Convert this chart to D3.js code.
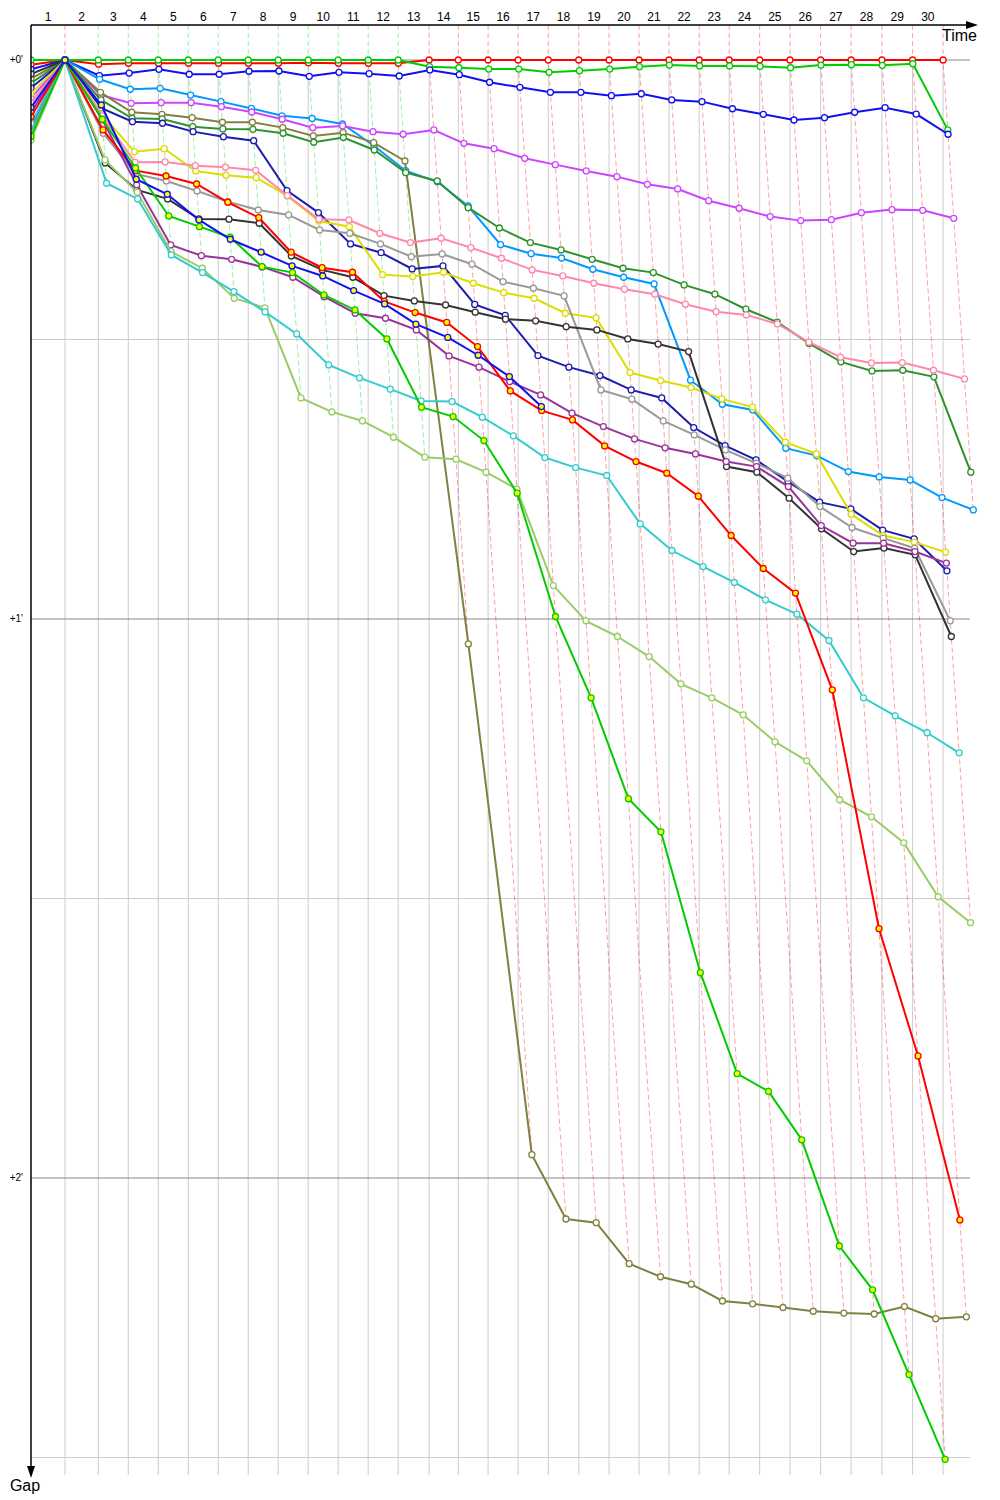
<!DOCTYPE html>
<html>
<head>
<meta charset="utf-8">
<script src="https://cdn.jsdelivr.net/npm/d3@7"></script>
<style>
  body { margin: 0; background: #fff; }
  svg text { font-family: "Liberation Sans", Arial, sans-serif; }
</style>
</head>
<body>
<svg id="chart" width="1000" height="1500"></svg>
<script>
// leader lap times (s), lap 1..30
const leaderLapTimes = [54.3, 53.2, 47.9, 47.9, 47.9, 47.9, 47.9, 47.9, 47.9, 47.9, 47.9, 47.9,
  49.5, 46.6, 47.6, 47.9, 48.2, 48.7, 48.4, 47.9, 47.9, 48.2, 47.9, 48.7, 48.4, 49.0, 48.7, 49.2, 49.0, 48.7];
const lapLabels = d3.range(1, 31).map(String);
const gapTicks = [0, 60, 120];
const gapTickLabels = ["+0'", "+1'", "+2'"];
const gapMinorTicks = [30, 90, 150];

// gap to leader (s), index = lap (0 = grid)
const redGaps = [0.5, 0, 0.45, 0.35, 0.35, 0.35, 0.35, 0.35, 0.35, 0.3, 0.35, 0.35, 0.35,
  0, 0, 0, 0, 0, 0, 0, 0, 0, 0, 0, 0, 0, 0, 0, 0, 0, 0];
const greenGaps = [0, 0, 0, 0, 0, 0, 0, 0, 0, 0, 0, 0, 0,
  0.72, 0.83, 0.97, 0.97, 1.32, 1.15, 0.97, 0.72, 0.54, 0.64, 0.64, 0.68, 0.83, 0.54, 0.5, 0.57, 0.4, 7.5];
const blueGaps = [1.0, 0, 1.68, 1.4, 1.0, 1.53, 1.53, 1.21, 1.18, 1.75, 1.32, 1.47, 1.72,
  1.07, 1.58, 2.39, 2.93, 3.47, 3.47, 3.83, 3.62, 4.29, 4.47, 5.23, 5.83, 6.44, 6.19, 5.61, 5.12, 5.8, 7.97];
const lightBlueGaps = [7.3, 0, 2.07, 3.14, 3.04, 3.76, 4.47, 5.2, 5.99, 6.28, 6.87, 9.2, 11.88,
  13.07, 15.67, 19.82, 20.79, 21.25, 22.46, 23.32, 24.04, 34.37, 36.95, 37.56, 41.67, 42.46, 44.18, 44.75, 45.07, 46.97, 48.29];
const violetGaps = [4.1, 0, 3.76, 4.65, 4.58, 4.58, 5.01, 5.58, 6.36, 7.26, 7.08, 7.69, 7.97,
  7.51, 8.94, 9.52, 10.55, 11.23, 11.91, 12.52, 13.34, 13.84, 15.1, 15.91, 16.81, 17.24, 17.14, 16.39, 16.06, 16.13, 16.99];
const oliveGaps = [2.0, 0, 3.47, 5.61, 5.83, 6.19, 6.68, 6.68, 7.26, 8.15, 7.8, 8.87, 10.84,
  62.67, 117.5, 124.4, 124.8, 129.2, 130.6, 131.4, 133.2, 133.5, 133.9, 134.3, 134.5, 134.6, 133.8, 135.1, 134.9];
const darkGreenGaps = [2.5, 0, 4.29, 6.26, 6.33, 7.16, 7.4, 7.44, 7.86, 8.83, 8.32, 9.66, 12.09,
  12.98, 15.85, 18.03, 19.6, 20.39, 21.39, 22.35, 22.82, 24.14, 25.14, 26.75, 28.13, 30.42, 32.4, 33.37, 33.3, 34.01, 44.24];
const navyGaps = [3.0, 0, 5.18, 6.62, 6.79, 7.69, 8.23, 8.66, 14.02, 16.38, 19.74, 20.68, 22.43,
  22.1, 26.23, 27.41, 31.73, 32.97, 33.87, 35.41, 36.27, 39.45, 41.39, 42.92, 45.25, 47.46, 48.18, 50.46, 51.4, 54.83];
const yellowGaps = [3.6, 0, 5.8, 9.84, 9.52, 11.91, 12.37, 12.63, 14.59, 17.28, 17.89, 23.04, 23.25,
  22.78, 23.96, 24.97, 25.57, 27.18, 27.68, 33.55, 34.41, 35.16, 36.37, 37.26, 41.02, 42.28, 48.75, 51.04, 51.75, 52.82];
const pinkGaps = [4.6, 0, 6.0, 10.98, 10.94, 11.34, 11.51, 11.84, 14.56, 17.09, 17.17, 18.6, 19.6,
  19.13, 20.14, 21.28, 22.53, 23.18, 23.96, 24.6, 25.14, 26.21, 27.01, 27.36, 28.33, 30.29, 31.9, 32.51, 32.48, 33.3, 34.23];
const redYellowGaps = [6.1, 0, 7.51, 11.88, 12.45, 13.31, 15.27, 16.92, 20.63, 22.29, 22.78, 25.91, 27.11,
  28.17, 30.76, 35.52, 37.63, 38.63, 41.42, 43.1, 44.35, 46.82, 51.04, 54.58, 57.22, 67.6, 93.24, 106.9, 124.5];
const grayGaps = [7.7, 0, 7.87, 12.23, 12.98, 14.06, 15.2, 16.1, 16.63, 18.24, 18.6, 19.74, 21.11,
  20.82, 21.92, 23.79, 24.5, 25.32, 35.41, 36.41, 38.74, 40.24, 41.85, 43.28, 44.88, 47.93, 50.18, 51.32, 52.4, 60.2];
const blackGaps = [1.5, 0, 11.05, 13.95, 14.91, 17.06, 17.09, 17.52, 21.03, 22.53, 23.32, 25.29, 25.86,
  26.29, 27.07, 27.82, 28.0, 28.62, 28.97, 29.94, 30.49, 31.3, 43.64, 44.24, 47.03, 50.32, 52.76, 52.39, 53.11, 61.88];
const greenYellowGaps = [8.2, 0, 6.36, 11.59, 16.74, 17.89, 19.02, 22.18, 22.82, 25.22, 26.83, 29.94, 37.26,
  38.27, 40.85, 46.49, 59.73, 68.46, 79.29, 82.84, 97.96, 108.8, 110.7, 115.9, 127.3, 132.0, 141.1, 150.2];
const blueYellowGaps = [5.1, 0, 4.83, 12.8, 14.41, 17.17, 19.24, 20.63, 22.1, 23.18, 24.75, 26.18, 28.35,
  29.78, 31.69, 33.98, 37.2];
const purpleGaps = [5.6, 0, 6.4, 13.4, 19.85, 21.0, 21.39, 22.21, 23.32, 25.4, 27.18, 27.72, 28.97,
  31.76, 32.97, 34.52, 35.95, 37.91, 39.35, 40.67, 41.63, 42.28, 43.1, 43.64, 45.79, 49.97, 51.86, 51.86, 52.76, 54.0];
const lightGreenGaps = [8.6, 0, 10.73, 14.2, 20.57, 22.35, 25.57, 26.6, 36.27, 37.77, 38.74, 40.49, 42.63,
  42.85, 44.24, 46.07, 56.41, 60.2, 61.88, 64.03, 66.96, 68.46, 70.28, 73.18, 75.22, 79.4, 81.23, 84.02, 89.81, 92.6];
const cyanGaps = [6.8, 0, 13.23, 14.91, 20.92, 22.82, 24.86, 27.04, 29.4, 32.73, 34.12, 35.33, 36.59,
  36.66, 38.34, 40.34, 42.67, 43.75, 44.6, 49.79, 52.65, 54.37, 56.08, 57.94, 59.48, 62.31, 68.46, 70.39, 72.21, 74.36];

const drivers = [
  { color: "#ff0000", fill: "#fff", gaps: redGaps },
  { color: "#00cc00", fill: "#fff", gaps: greenGaps },
  { color: "#1010f0", fill: "#fff", gaps: blueGaps },
  { color: "#0099ff", fill: "#fff", gaps: lightBlueGaps },
  { color: "#cc44ff", fill: "#fff", gaps: violetGaps },
  { color: "#808040", fill: "#fff", gaps: oliveGaps },
  { color: "#2e922e", fill: "#fff", gaps: darkGreenGaps },
  { color: "#1c1cb0", fill: "#fff", gaps: navyGaps },
  { color: "#dddd00", fill: "#fff", gaps: yellowGaps },
  { color: "#ff88aa", fill: "#fff", gaps: pinkGaps },
  { color: "#999999", fill: "#fff", gaps: grayGaps },
  { color: "#333333", fill: "#fff", gaps: blackGaps },
  { color: "#993399", fill: "#fff", gaps: purpleGaps },
  { color: "#99cc66", fill: "#fff", gaps: lightGreenGaps },
  { color: "#33cccc", fill: "#fff", gaps: cyanGaps },
  { color: "#ff0000", fill: "#ffff00", gaps: redYellowGaps },
  { color: "#00cc00", fill: "#ffff00", gaps: greenYellowGaps },
  { color: "#1010f0", fill: "#ffff00", gaps: blueYellowGaps }
];

const cum = [0];
leaderLapTimes.forEach(t => cum.push(cum[cum.length - 1] + t));

const svg = d3.select("#chart");
const x = d3.scaleLinear().domain([0, 1500]).range([31, 970]);
const y = d3.scaleLinear().domain([0, 150]).range([60, 1457.5]);
const axisTop = 25, axisBottom = 1475;

drivers.forEach(d => {
  d.points = d.gaps.map((g, i) => ({ lap: i, gap: g, t: i === 0 ? 0 : cum[i] + g }));
});

// grid
const grid = svg.append("g");
grid.selectAll("line.v")
  .data(cum.slice(1))
  .join("line")
  .attr("x1", d => x(d)).attr("x2", d => x(d))
  .attr("y1", y(0)).attr("y2", axisBottom)
  .attr("stroke", "#cccccc");
grid.selectAll("line.minor")
  .data(gapMinorTicks)
  .join("line")
  .attr("x1", 31).attr("x2", 970)
  .attr("y1", d => y(d)).attr("y2", d => y(d))
  .attr("stroke", "#cccccc");
grid.selectAll("line.major")
  .data(gapTicks)
  .join("line")
  .attr("x1", 31).attr("x2", 970)
  .attr("y1", d => y(d)).attr("y2", d => y(d))
  .attr("stroke", "#888888");

svg.append("defs").append("clipPath").attr("id", "plot")
  .append("rect").attr("x", 31).attr("y", 0).attr("width", 969).attr("height", 1500);

const plot = svg.append("g").attr("clip-path", "url(#plot)");

// lap lines, coloured by the leader of the lap
const lapLines = d3.range(1, 31).map(n => {
  const pts = drivers.filter(d => d.gaps[n] !== undefined)
    .map(d => ({ gap: d.gaps[n], t: cum[n] + d.gaps[n], color: d.color }));
  pts.sort((a, b) => a.gap - b.gap);
  return { lap: n, color: pts[0].color, pts: [{ gap: null, t: cum[n] }].concat(pts) };
});

plot.append("g")
  .selectAll("path")
  .data(lapLines)
  .join("path")
  .attr("d", d => d3.line().x(p => x(p.t)).y(p => p.gap === null ? axisTop : y(p.gap))(d.pts))
  .attr("fill", "none")
  .attr("stroke", d => d.color)
  .attr("stroke-opacity", 0.38)
  .attr("stroke-dasharray", "5,3");

// drivers
const line = d3.line().x(p => x(p.t)).y(p => y(p.gap));
const dg = plot.selectAll("g.driver")
  .data(drivers)
  .join("g");

dg.append("path")
  .attr("d", d => line(d.points))
  .attr("fill", "none")
  .attr("stroke", d => d.color)
  .attr("stroke-width", 2);

dg.selectAll("circle")
  .data(d => d.points.map(p => Object.assign({ color: d.color, fill: d.fill }, p)))
  .join("circle")
  .attr("cx", p => x(p.t))
  .attr("cy", p => y(p.gap))
  .attr("r", 3)
  .attr("fill", p => p.fill)
  .attr("stroke", p => p.color)
  .attr("stroke-width", 1.3);

// axes
svg.append("line").attr("x1", 31).attr("x2", 970).attr("y1", axisTop).attr("y2", axisTop)
  .attr("stroke", "#000").attr("stroke-width", 1.5);
svg.append("path").attr("d", `M978,${axisTop} L966,${axisTop - 4} L966,${axisTop + 4} Z`).attr("fill", "#000");
svg.append("line").attr("x1", 31).attr("x2", 31).attr("y1", axisTop).attr("y2", 1468)
  .attr("stroke", "#000").attr("stroke-width", 1.5);
svg.append("path").attr("d", "M31,1478 L27,1466 L35,1466 Z").attr("fill", "#000");

svg.append("text").attr("x", 977).attr("y", 41).attr("text-anchor", "end")
  .attr("font-size", 16).text("Time");
svg.append("text").attr("x", 25).attr("y", 1491).attr("text-anchor", "middle")
  .attr("font-size", 16).text("Gap");

svg.selectAll("text.lap")
  .data(lapLabels)
  .join("text")
  .attr("x", (d, i) => (x(cum[i]) + x(cum[i + 1])) / 2)
  .attr("y", 21)
  .attr("text-anchor", "middle")
  .attr("font-size", 12)
  .text(d => d);

svg.selectAll("text.gap")
  .data(gapTicks)
  .join("text")
  .attr("x", 23)
  .attr("y", d => y(d) + 3)
  .attr("text-anchor", "end")
  .attr("font-size", 10)
  .text((d, i) => gapTickLabels[i]);
</script>
</body>
</html>
